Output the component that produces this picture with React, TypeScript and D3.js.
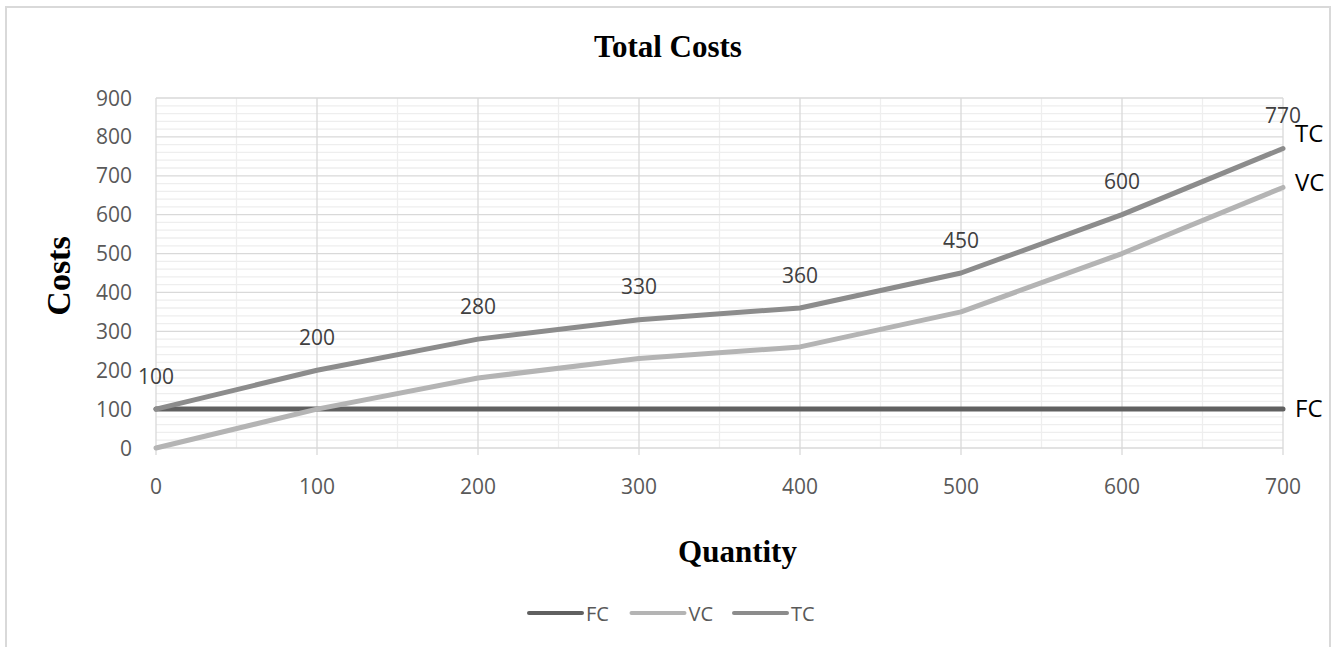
import React from "react";
import * as d3 from "d3";

const quantities = [0, 100, 200, 300, 400, 500, 600, 700];
const fcValues = [100, 100, 100, 100, 100, 100, 100, 100];
const vcValues = [0, 100, 180, 230, 260, 350, 500, 670];
const tcValues = [100, 200, 280, 330, 360, 450, 600, 770];
const yTicks = [0, 100, 200, 300, 400, 500, 600, 700, 800, 900];
const xTicks = [0, 100, 200, 300, 400, 500, 600, 700];
const seriesNames = ["FC", "VC", "TC"];

const W = 1333;
const H = 647;
const colors: Record<string, string> = { FC: "#606060", VC: "#b4b4b4", TC: "#8c8c8c" };
const endLabelOffset: Record<string, number> = { FC: 8, VC: 3.5, TC: -6.5 };
const sans = "'Open Sans', 'Noto Sans', sans-serif";
const serif = "'Liberation Serif', 'Times New Roman', serif";

export default function App() {
  const x = d3.scaleLinear().domain([0, 700]).range([156, 1283]);
  const y = d3.scaleLinear().domain([0, 900]).range([448, 98]);
  const seriesData: Record<string, number[]> = { FC: fcValues, VC: vcValues, TC: tcValues };
  const line = d3
    .line<number>()
    .x((_, i) => x(quantities[i]))
    .y((d) => y(d));

  const minorY = d3.range(0, 901, 20).filter((v) => v % 100 !== 0);
  const minorX = d3.range(50, 700, 100);

  const legendX0 = 529;
  const legendSpacing = 102.5;

  return (
    <svg
      width={W}
      height={H}
      style={{ position: "absolute", left: 0, top: 0, background: "#fff" }}
    >
      <rect x={6} y={7} width={1324} height={660} fill="#fff" stroke="#d9d9d9" strokeWidth={2} />
      <text x={668} y={57} textAnchor="middle" fontFamily={serif} fontWeight="bold" fontSize={31} fill="#000">
        Total Costs
      </text>

      {/* minor grid */}
      {minorY.map((v) => (
        <line key={"my" + v} x1={x(0)} x2={x(700)} y1={y(v)} y2={y(v)} stroke="#eeeeee" strokeWidth={1.3} />
      ))}
      {minorX.map((v) => (
        <line key={"mx" + v} x1={x(v)} x2={x(v)} y1={y(900)} y2={y(0)} stroke="#eeeeee" strokeWidth={1.3} />
      ))}
      {/* major grid */}
      {yTicks.map((v) => (
        <line key={"gy" + v} x1={x(0)} x2={x(700)} y1={y(v)} y2={y(v)} stroke="#d9d9d9" strokeWidth={1.3} />
      ))}
      {xTicks.map((v) => (
        <line key={"gx" + v} x1={x(v)} x2={x(v)} y1={y(900)} y2={y(0) + 7} stroke="#d9d9d9" strokeWidth={1.3} />
      ))}

      {/* y tick labels */}
      {yTicks.map((v) => (
        <text key={"yt" + v} x={132} y={y(v) + 7.5} textAnchor="end" fontFamily={sans} fontSize={21} fill="#595959">
          {v}
        </text>
      ))}
      {/* x tick labels */}
      {xTicks.map((v) => (
        <text key={"xt" + v} x={x(v)} y={494} textAnchor="middle" fontFamily={sans} fontSize={21} fill="#595959">
          {v}
        </text>
      ))}

      {/* axis titles */}
      <text
        transform={`translate(70,276) rotate(-90)`}
        textAnchor="middle"
        fontFamily={serif}
        fontWeight="bold"
        fontSize={34}
        fill="#000"
      >
        Costs
      </text>
      <text x={737.5} y={562} textAnchor="middle" fontFamily={serif} fontWeight="bold" fontSize={31} fill="#000">
        Quantity
      </text>

      {/* series lines */}
      {seriesNames.map((s) => (
        <path
          key={s}
          d={line(seriesData[s]) || ""}
          fill="none"
          stroke={colors[s]}
          strokeWidth={5}
          strokeLinejoin="round"
          strokeLinecap="round"
        />
      ))}

      {/* TC data labels */}
      {tcValues.map((v, i) => (
        <text
          key={"dl" + i}
          x={x(quantities[i])}
          y={y(v) - 25.5}
          textAnchor="middle"
          fontFamily={sans}
          fontSize={21}
          fill="#404040"
        >
          {v}
        </text>
      ))}

      {/* end labels */}
      {seriesNames.map((s) => {
        const vals = seriesData[s];
        return (
          <text
            key={"el" + s}
            x={x(700) + 12}
            y={y(vals[vals.length - 1]) + endLabelOffset[s]}
            fontFamily={sans}
            fontSize={24}
            fill="#000"
          >
            {s}
          </text>
        );
      })}

      {/* legend */}
      {seriesNames.map((s, i) => {
        const lx = legendX0 + i * legendSpacing;
        return (
          <g key={"lg" + s}>
            <line x1={lx} x2={lx + 53} y1={613} y2={613} stroke={colors[s]} strokeWidth={4} strokeLinecap="round" />
            <text x={lx + 57} y={620.5} fontFamily={sans} fontSize={20} fill="#595959">
              {s}
            </text>
          </g>
        );
      })}
    </svg>
  );
}
